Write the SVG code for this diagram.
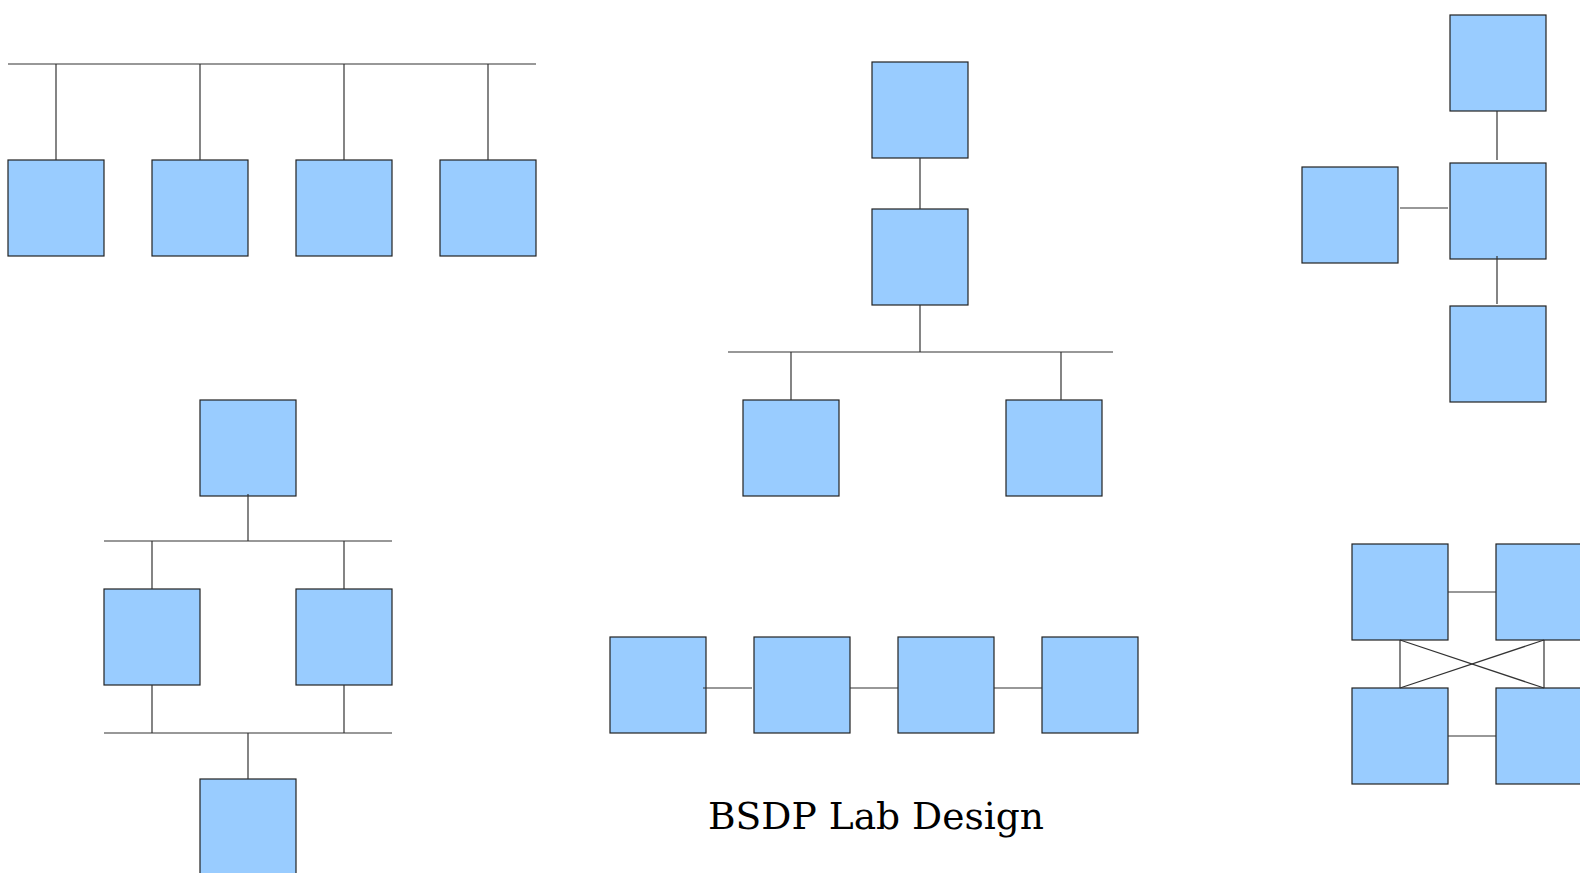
<svg xmlns="http://www.w3.org/2000/svg" width="1580" height="873" viewBox="0 0 1580 873">
<style>
.n{fill:#99ccff;stroke:#222;stroke-width:1.2}
.c line{stroke:#333;stroke-width:1.2;fill:none}
.t{font-family:"DejaVu Serif","Liberation Serif",serif;font-size:37.6px;fill:#000}
</style>
<rect width="1580" height="873" fill="#fff"/>
<g id="tl1"><rect class="n" x="8" y="160" width="96" height="96"/></g>
<g id="tl2"><rect class="n" x="152" y="160" width="96" height="96"/></g>
<g id="tl3"><rect class="n" x="296" y="160" width="96" height="96"/></g>
<g id="tl4"><rect class="n" x="440" y="160" width="96" height="96"/></g>
<g id="ct1"><rect class="n" x="872" y="62" width="96" height="96"/></g>
<g id="ct2"><rect class="n" x="872" y="209" width="96" height="96"/></g>
<g id="ct3"><rect class="n" x="743" y="400" width="96" height="96"/></g>
<g id="ct4"><rect class="n" x="1006" y="400" width="96" height="96"/></g>
<g id="tr1"><rect class="n" x="1450" y="15" width="96" height="96"/></g>
<g id="tr2"><rect class="n" x="1450" y="163" width="96" height="96"/></g>
<g id="tr3"><rect class="n" x="1302" y="167" width="96" height="96"/></g>
<g id="tr4"><rect class="n" x="1450" y="306" width="96" height="96"/></g>
<g id="bl1"><rect class="n" x="200" y="400" width="96" height="96"/></g>
<g id="bl2"><rect class="n" x="104" y="589" width="96" height="96"/></g>
<g id="bl3"><rect class="n" x="296" y="589" width="96" height="96"/></g>
<g id="bl4"><rect class="n" x="200" y="779" width="96" height="96"/></g>
<g id="ch1"><rect class="n" x="610" y="637" width="96" height="96"/></g>
<g id="ch2"><rect class="n" x="754" y="637" width="96" height="96"/></g>
<g id="ch3"><rect class="n" x="898" y="637" width="96" height="96"/></g>
<g id="ch4"><rect class="n" x="1042" y="637" width="96" height="96"/></g>
<g id="m1"><rect class="n" x="1352" y="544" width="96" height="96"/></g>
<g id="m2"><rect class="n" x="1496" y="544" width="96" height="96"/></g>
<g id="m3"><rect class="n" x="1352" y="688" width="96" height="96"/></g>
<g id="m4"><rect class="n" x="1496" y="688" width="96" height="96"/></g>
<g id="connectors" class="c">
<line x1="8" y1="64" x2="536" y2="64"/>
<line x1="56" y1="64" x2="56" y2="160"/>
<line x1="200" y1="64" x2="200" y2="160"/>
<line x1="344" y1="64" x2="344" y2="160"/>
<line x1="488" y1="64" x2="488" y2="160"/>
<line x1="920" y1="158" x2="920" y2="209"/>
<line x1="920" y1="305" x2="920" y2="352"/>
<line x1="728" y1="352" x2="1113" y2="352"/>
<line x1="791" y1="352" x2="791" y2="400"/>
<line x1="1061" y1="352" x2="1061" y2="400"/>
<line x1="1497" y1="111" x2="1497" y2="160"/>
<line x1="1400" y1="208" x2="1448" y2="208"/>
<line x1="1497" y1="256" x2="1497" y2="304"/>
<line x1="248" y1="494" x2="248" y2="541"/>
<line x1="104" y1="541" x2="392" y2="541"/>
<line x1="152" y1="541" x2="152" y2="589"/>
<line x1="344" y1="541" x2="344" y2="589"/>
<line x1="152" y1="685" x2="152" y2="733"/>
<line x1="344" y1="685" x2="344" y2="733"/>
<line x1="104" y1="733" x2="392" y2="733"/>
<line x1="248" y1="733" x2="248" y2="779"/>
<line x1="703" y1="688" x2="752" y2="688"/>
<line x1="850" y1="688" x2="898" y2="688"/>
<line x1="994" y1="688" x2="1042" y2="688"/>
<line x1="1448" y1="592" x2="1496" y2="592"/>
<line x1="1448" y1="736" x2="1496" y2="736"/>
<line x1="1400" y1="640" x2="1400" y2="688"/>
<line x1="1544" y1="640" x2="1544" y2="688"/>
<line x1="1400" y1="640" x2="1544" y2="688"/>
<line x1="1400" y1="688" x2="1544" y2="640"/>
</g>
<g id="title"><text class="t" x="876" y="829" text-anchor="middle">BSDP Lab Design</text></g>
</svg>
